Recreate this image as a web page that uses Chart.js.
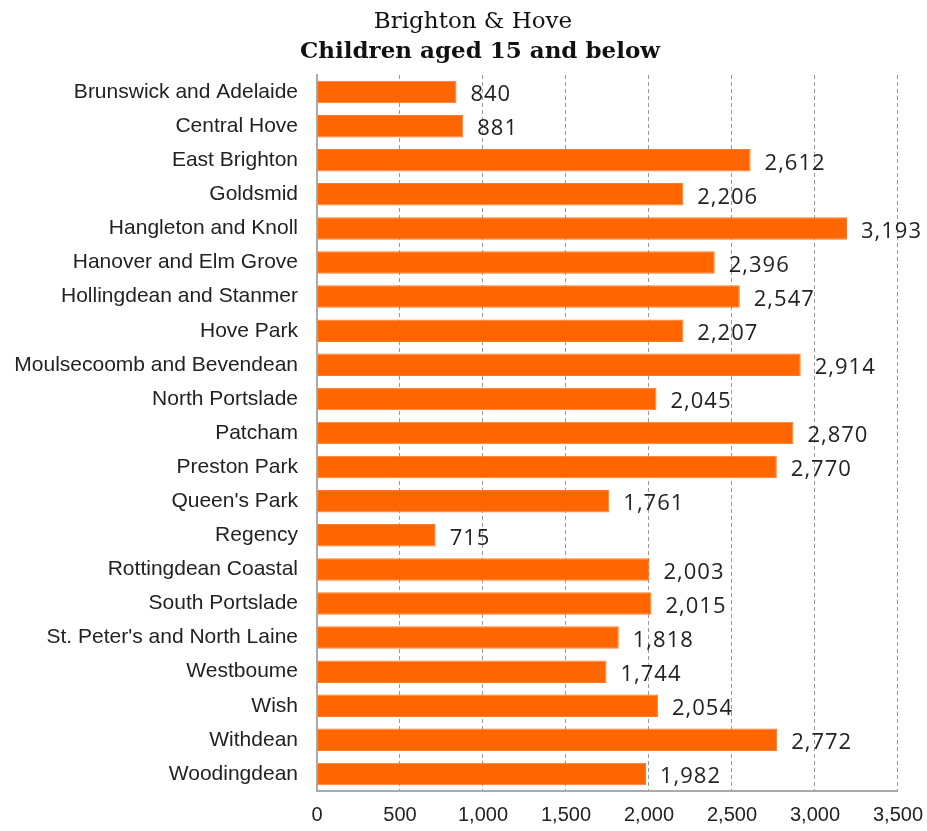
<!DOCTYPE html>
<html>
<head>
<meta charset="utf-8">
<title>Brighton & Hove - Children aged 15 and below</title>
<script src="https://cdn.jsdelivr.net/npm/chart.js@4/dist/chart.umd.min.js"></script>
<style>
    html, body { margin: 0; padding: 0; background: #fff; }
    #wrap { width: 927px; height: 831px; }
</style>
</head>
<body>
<div id="wrap"><canvas id="chart-children"></canvas></div>
<script>
// wards, listed top to bottom
const wards = [
    'Brunswick and Adelaide', 'Central Hove', 'East Brighton', 'Goldsmid',
    'Hangleton and Knoll', 'Hanover and Elm Grove', 'Hollingdean and Stanmer',
    'Hove Park', 'Moulsecoomb and Bevendean', 'North Portslade', 'Patcham',
    'Preston Park', "Queen's Park", 'Regency', 'Rottingdean Coastal',
    'South Portslade', "St. Peter's and North Laine", 'Westboume', 'Wish',
    'Withdean', 'Woodingdean'
];

// children aged 15 and below per ward
const children = [
    840, 881, 2612, 2206, 3193, 2396, 2547, 2207, 2914, 2045, 2870,
    2770, 1761, 715, 2003, 2015, 1818, 1744, 2054, 2772, 1982
];

const titleLines = ['Brighton & Hove', 'Children aged 15 and below'];

const axisMax = 3500;
const axisStep = 500;

// two-line heading, the second line in bold
const heading = {
    id: 'heading',
    afterDraw(chart) {
        const ctx = chart.ctx;
        ctx.save();
        ctx.fillStyle = '#111';
        ctx.textAlign = 'center';
        ctx.textBaseline = 'alphabetic';
        ctx.font = '23px "DejaVu Serif", serif';
        ctx.fillText(titleLines[0], 473, 28);
        ctx.font = 'bold 23px "DejaVu Serif", serif';
        ctx.fillText(titleLines[1], 480, 58);
        ctx.restore();
    }
};

// writes the value just past the end of each bar
const valueLabels = {
    id: 'valueLabels',
    afterDatasetsDraw(chart) {
        const ctx = chart.ctx;
        const meta = chart.getDatasetMeta(0);
        ctx.save();
        ctx.font = '22px "Open Sans", sans-serif';
        ctx.letterSpacing = '1px';
        ctx.fillStyle = '#222';
        ctx.textAlign = 'left';
        ctx.textBaseline = 'middle';
        meta.data.forEach((bar, i) => {
            ctx.fillText(children[i].toLocaleString('en-US'), bar.x + 14, bar.y + 3);
        });
        ctx.restore();
    }
};

const ctx = document.getElementById('chart-children').getContext('2d');
new Chart(ctx, {
    type: 'bar',
    data: {
        labels: wards,
        datasets: [{
            data: children,
            backgroundColor: '#ff6600',
            borderColor: '#ff7a26',
            borderWidth: 1,
            barPercentage: 0.66,
            categoryPercentage: 1.0,
        }],
    },
    options: {
        indexAxis: 'y',
        responsive: true,
        maintainAspectRatio: false,
        animation: false,
        layout: {
            padding: { left: 0, right: 20, top: 75, bottom: 2 },
        },
        plugins: {
            legend: { display: false },
            tooltip: { enabled: false },
            title: { display: false },
        },
        scales: {
            x: {
                min: 0,
                max: axisMax,
                ticks: {
                    stepSize: axisStep,
                    color: '#222',
                    font: { family: '"Liberation Sans", Arial, sans-serif', size: 20, lineHeight: 1.0 },
                    padding: 4,
                    callback: (v) => v.toLocaleString('en-US'),
                },
                grid: {
                    color: '#999',
                    lineWidth: 1,
                    drawTicks: true,
                    tickLength: 10,
                    tickColor: 'rgba(0,0,0,0)',
                },
                border: {
                    display: true,
                    color: '#aaa',
                    width: 2,
                    dash: [4, 3],
                },
            },
            y: {
                afterFit(scale) { scale.width = 317; },
                ticks: {
                    color: '#222',
                    font: { family: '"Liberation Sans", Arial, sans-serif', size: 21 },
                    padding: 19,
                    autoSkip: false,
                },
                grid: { display: false, drawTicks: false },
                border: { display: true, color: '#aaa', width: 2 },
            },
        },
    },
    plugins: [valueLabels, heading],
});
</script>
</body>
</html>
